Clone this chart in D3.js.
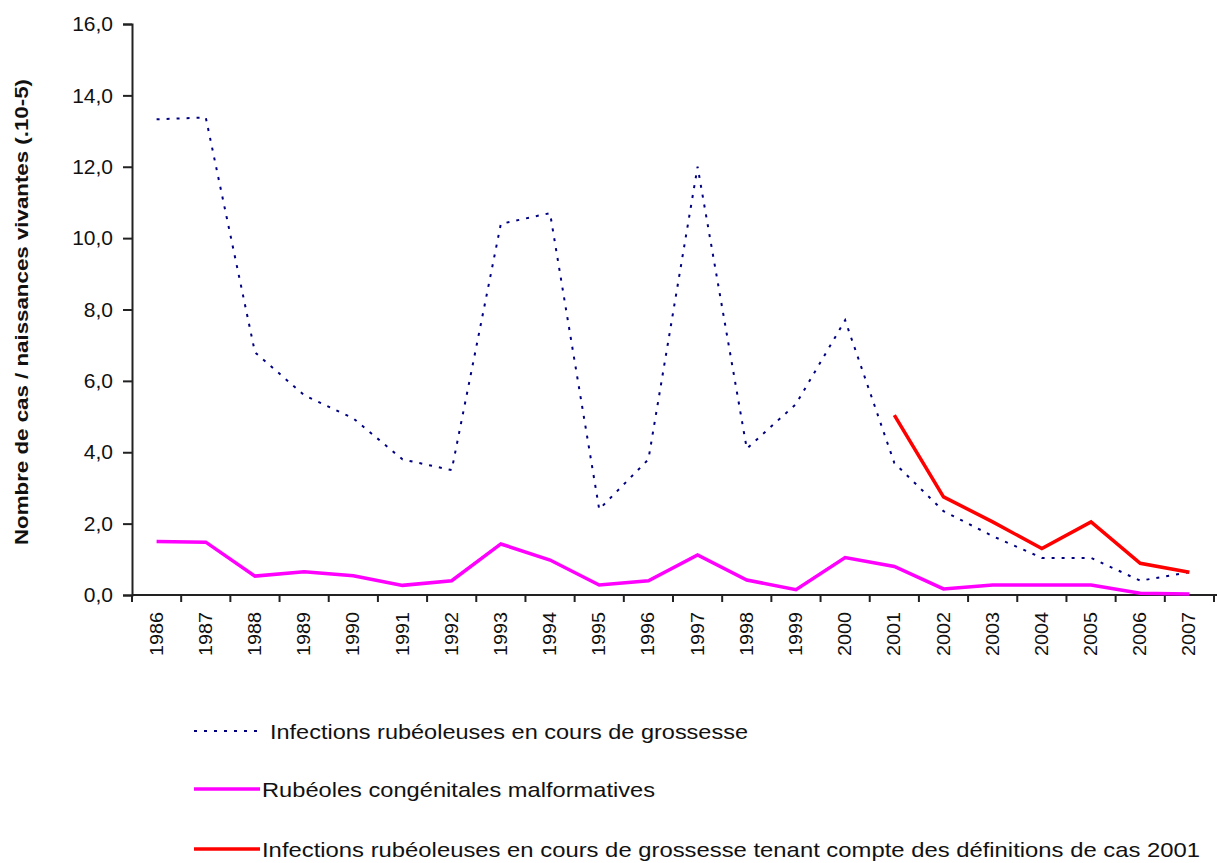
<!DOCTYPE html>
<html>
<head>
<meta charset="utf-8">
<script src="https://cdn.jsdelivr.net/npm/d3@7"></script>
<style>
  html, body { margin: 0; padding: 0; background: #fff; }
  svg { display: block; }
  text { font-family: Arial, "Liberation Sans", sans-serif; fill: #111; }
</style>
</head>
<body>
<svg id="chart" width="1217" height="863"></svg>
<script>
// ---- data ----
const years = ["1986","1987","1988","1989","1990","1991","1992","1993","1994","1995","1996",
               "1997","1998","1999","2000","2001","2002","2003","2004","2005","2006","2007"];
const infections = [13.33, 13.38, 6.8, 5.6, 4.95, 3.8, 3.5, 10.4, 10.7, 2.4, 3.8,
                    12.0, 4.1, 5.35, 7.7, 3.7, 2.35, 1.65, 1.04, 1.04, 0.4, 0.64];
const congenitales = [1.5, 1.48, 0.53, 0.65, 0.54, 0.27, 0.4, 1.43, 0.98, 0.28, 0.4,
                      1.12, 0.42, 0.15, 1.05, 0.8, 0.17, 0.28, 0.28, 0.28, 0.05, 0.03];
const def2001Years = ["2001","2002","2003","2004","2005","2006","2007"];
const def2001 = [5.04, 2.75, 2.05, 1.3, 2.05, 0.89, 0.64];
const yTicks = [0, 2, 4, 6, 8, 10, 12, 14, 16];
const legendLabels = [
  "Infections rubéoleuses en cours de grossesse",
  "Rubéoles congénitales malformatives",
  "Infections rubéoleuses en cours de grossesse tenant compte des définitions de cas 2001"
];
const yTitle = "Nombre de cas / naissances vivantes (.10-5)";

// ---- layout ----
const svg = d3.select("#chart");
const plotLeft = 132, plotRight = 1214, plotTop = 24, plotBottom = 595;

const x = d3.scaleBand().domain(years).range([plotLeft, plotRight]).padding(0);
const y = d3.scaleLinear().domain([0, 16]).range([plotBottom, plotTop]);
const cx = d => x(d) + x.bandwidth() / 2;

// y axis
const yAxis = svg.append("g").attr("transform", `translate(${plotLeft},0)`)
  .call(d3.axisLeft(y).tickValues(yTicks).tickSize(9).tickPadding(10)
    .tickFormat(d => d3.format(".1f")(d).replace(".", ",")));
yAxis.select(".domain").attr("stroke", "#222").attr("stroke-width", 2);
yAxis.selectAll(".tick line").attr("stroke", "#222").attr("stroke-width", 2);
yAxis.selectAll(".tick text").attr("font-size", 21).attr("fill", "#111")
  .attr("font-family", "Arial, 'Liberation Sans', sans-serif");

// x axis
const xAxisG = svg.append("g").attr("transform", `translate(0,${plotBottom})`);
xAxisG.append("line").attr("x1", plotLeft).attr("x2", 1217).attr("y1", 0).attr("y2", 0)
  .attr("stroke", "#222").attr("stroke-width", 2);
const boundaries = years.map(d => x(d)).concat([plotRight]);
xAxisG.selectAll("line.tk").data(boundaries).enter().append("line")
  .attr("class", "tk").attr("x1", d => d).attr("x2", d => d)
  .attr("y1", 0).attr("y2", 7).attr("stroke", "#222").attr("stroke-width", 2);
xAxisG.selectAll("text.yr").data(years).enter().append("text")
  .attr("class", "yr")
  .attr("transform", d => `translate(${cx(d) + 6},17) rotate(-90)`)
  .attr("text-anchor", "end")
  .attr("font-size", 18)
  .attr("textLength", 44).attr("lengthAdjust", "spacingAndGlyphs")
  .text(d => d);

// y title
svg.append("text")
  .attr("transform", `translate(28,312) rotate(-90)`)
  .attr("text-anchor", "middle")
  .attr("font-size", 18).attr("font-weight", "bold")
  .attr("textLength", 466).attr("lengthAdjust", "spacingAndGlyphs")
  .text(yTitle);

// lines
const line = d3.line().x(d => cx(d[0])).y(d => y(d[1]));

svg.append("path")
  .datum(years.map((yr, i) => [yr, infections[i]]))
  .attr("d", line).attr("fill", "none")
  .attr("stroke", "#000080").attr("stroke-width", 2)
  .attr("stroke-dasharray", "3,7");

svg.append("path")
  .datum(years.map((yr, i) => [yr, congenitales[i]]))
  .attr("d", line).attr("fill", "none")
  .attr("stroke", "#FF00FF").attr("stroke-width", 3.5);

svg.append("path")
  .datum(def2001Years.map((yr, i) => [yr, def2001[i]]))
  .attr("d", line).attr("fill", "none")
  .attr("stroke", "#FF0000").attr("stroke-width", 3.5);

// legend
const legendItems = [
  { y: 731, color: "#000080", dash: "3,7", w: 2, tx: 270, len: 478 },
  { y: 789, color: "#FF00FF", dash: null, w: 3.5, tx: 262, len: 393 },
  { y: 849, color: "#FF0000", dash: null, w: 3.5, tx: 262, len: 938 }
];
legendItems.forEach((it, i) => {
  const g = svg.append("g");
  g.append("line").attr("x1", 194).attr("x2", 260).attr("y1", it.y).attr("y2", it.y)
    .attr("stroke", it.color).attr("stroke-width", it.w)
    .attr("stroke-dasharray", it.dash);
  g.append("text").attr("x", it.tx).attr("y", it.y + 8)
    .attr("font-size", 21)
    .attr("textLength", it.len).attr("lengthAdjust", "spacingAndGlyphs")
    .text(legendLabels[i]);
});
</script>
</body>
</html>
